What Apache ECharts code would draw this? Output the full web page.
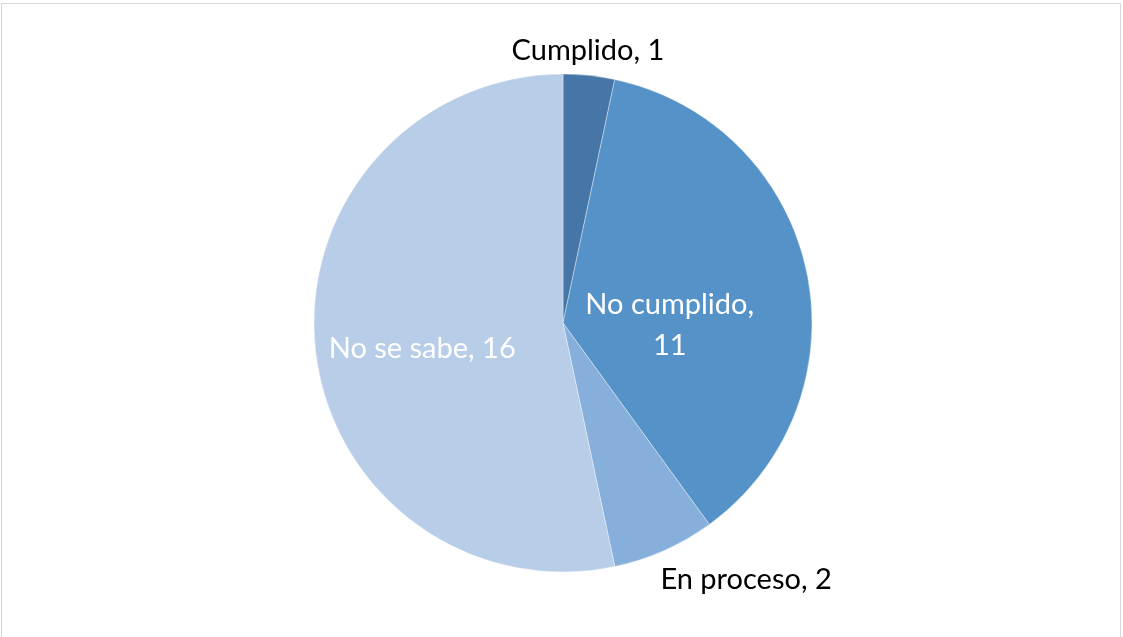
<!DOCTYPE html>
<html>
<head>
<meta charset="utf-8">
<script src="https://cdn.jsdelivr.net/npm/echarts@6/dist/echarts.min.js"></script>
<style>
  html, body { margin: 0; padding: 0; background: #fff; }
  #chart {
    position: absolute; left: 1px; top: 3px;
    width: 1120px; height: 640px;
    border: 1px solid #d9d9d9; box-sizing: border-box;
  }
</style>
</head>
<body>
<div id="chart"></div>
<script>
  var categories = ['Cumplido', 'No cumplido', 'En proceso', 'No se sabe'];
  var values = [1, 11, 2, 16];
  var colors = ['#4676a8', '#5592c8', '#87afdc', '#b8cde8'];

  // per-slice label placement (outside for small slices, inside for big ones)
  var labelPos = ['outside', 'inside', 'outside', 'inside'];
  var labelColor = ['#000', '#fff', '#000', '#fff'];
  var labelText = ['Cumplido, 1', 'No cumplido,\n11', 'En proceso, 2', 'No se sabe, 16'];
  // nudges so labels sit where Excel put them
  var labelDx = [-114, -18, -45, -14];
  var labelDy = [-10, 29, 15, 12];

  var chart = echarts.init(document.getElementById('chart'));

  var pieData = categories.map(function (c, i) {
    return {
      name: c,
      value: values[i],
      itemStyle: { color: colors[i] },
      label: {
        position: labelPos[i],
        color: labelColor[i],
        formatter: labelText[i]
      },
      labelLine: { show: false }
    };
  });

  chart.setOption({
    animation: false,
    series: [{
      type: 'pie',
      center: [561, 319],
      radius: 249,
      startAngle: 90,
      clockwise: true,
      itemStyle: { borderColor: 'rgba(255,255,255,0.6)', borderWidth: 0.6 },
      label: {
        fontFamily: 'Lato',
        fontSize: 29,
        lineHeight: 41,
        align: 'center'
      },
      labelLine: { show: false },
      labelLayout: function (p) {
        return { dx: labelDx[p.dataIndex], dy: labelDy[p.dataIndex] };
      },
      data: pieData
    }]
  });
</script>
</body>
</html>
